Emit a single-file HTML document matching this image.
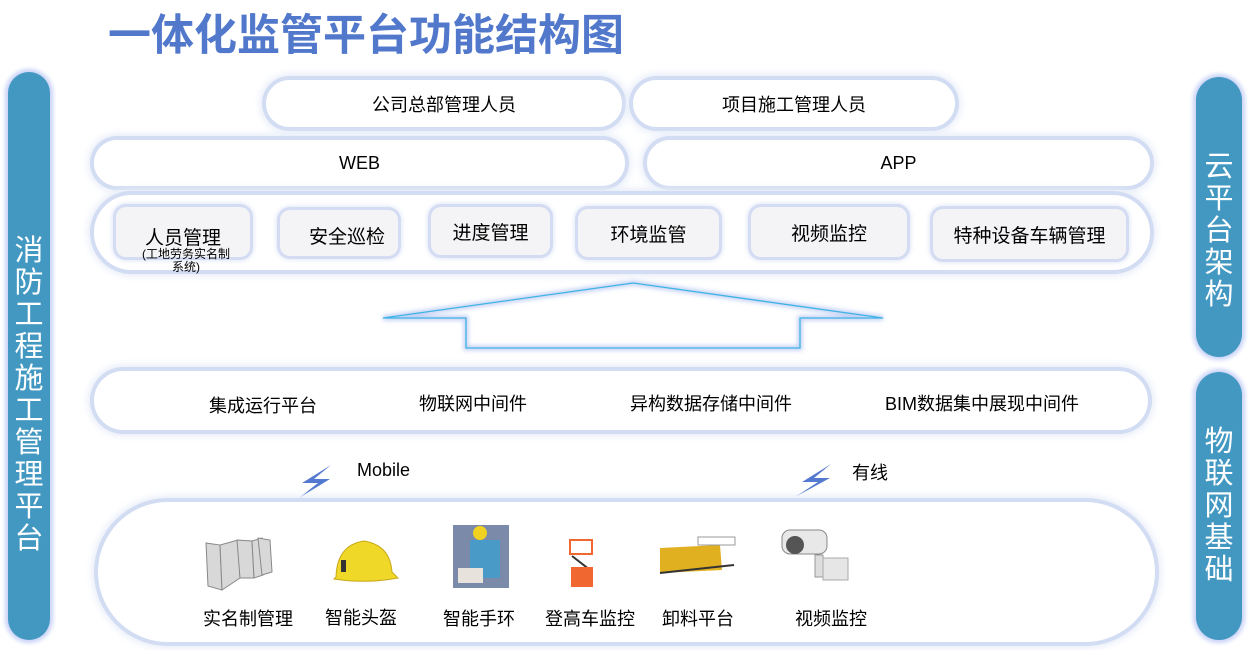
<!DOCTYPE html>
<html><head><meta charset="utf-8">
<style>
body{margin:0;width:1255px;height:650px;background:#fff;position:relative;overflow:hidden;font-family:"Liberation Sans","Noto Sans CJK SC",sans-serif;}
.a{position:absolute;box-sizing:border-box;}
.bar{background:#4398c2;border-radius:26px;box-shadow:0 0 4px 3px #c9d3f7;color:#fff;font-size:29px;line-height:32px;text-align:center;display:flex;align-items:center;justify-content:center;}
.pill{border:2px solid #fff;border-radius:30px;box-shadow:0 0 0 4px #d2dcf2,0 0 8px 6px #e6ecf8;background:#fff;display:flex;align-items:center;justify-content:center;font-size:18px;color:#000;}
.box{background:#f4f4f6;border-radius:10px;box-shadow:0 0 0 3px #d3dcf2,0 0 5px 4px #e2e8f7;font-size:19px;display:flex;align-items:center;justify-content:center;}
.t{position:absolute;font-size:18px;color:#000;white-space:nowrap;}
</style></head><body>
<div class="a" style="left:108px;top:1px;font-size:43px;font-weight:bold;color:#5278cc;">一体化监管平台功能结构图</div>

<div class="a bar" style="left:8px;top:72px;width:42px;height:568px;padding-top:78px;">消<br>防<br>工<br>程<br>施<br>工<br>管<br>理<br>平<br>台</div>
<div class="a bar" style="left:1196px;top:77px;width:46px;height:280px;padding-top:28px;">云<br>平<br>台<br>架<br>构</div>
<div class="a bar" style="left:1196px;top:372px;width:46px;height:268px;">物<br>联<br>网<br>基<br>础</div>

<div class="a pill" style="left:266px;top:80px;width:356px;height:47px;">公司总部管理人员</div>
<div class="a pill" style="left:633px;top:80px;width:322px;height:47px;">项目施工管理人员</div>
<div class="a pill" style="left:94px;top:140px;width:531px;height:46px;">WEB</div>
<div class="a pill" style="left:647px;top:140px;width:503px;height:46px;">APP</div>
<div class="a pill" style="left:94px;top:195px;width:1056px;height:75px;border-radius:38px;"></div>

<div class="a box" style="left:116px;top:207px;width:134px;height:50px;align-items:flex-start;padding-top:16px;">人员管理</div>
<div class="t" style="left:138px;top:248px;font-size:12px;line-height:13px;text-align:center;width:96px;white-space:normal;">(工地劳务实名制系统)</div>
<div class="a box" style="left:280px;top:210px;width:118px;height:46px;padding-left:16px;padding-top:4px;">安全巡检</div>
<div class="a box" style="left:431px;top:207px;width:119px;height:48px;">进度管理</div>
<div class="a box" style="left:578px;top:209px;width:141px;height:48px;">环境监管</div>
<div class="a box" style="left:751px;top:207px;width:156px;height:50px;">视频监控</div>
<div class="a box" style="left:933px;top:209px;width:193px;height:50px;">特种设备车辆管理</div>

<svg class="a" style="left:0;top:0" width="1255" height="650">
<defs><filter id="g"><feGaussianBlur stdDeviation="2"/></filter></defs>
<polygon points="383,318 633,283 883,318 800,318 800,348 466,348 466,318" fill="none" stroke="#c3d0f5" stroke-width="5" filter="url(#g)"/>
<polygon points="383,318 633,283 883,318 800,318 800,348 466,348 466,318" fill="none" stroke="#3fb3e6" stroke-width="1.3"/>
<polygon points="331,465 302,483 318,483 299,498 330,479 314,479" fill="#5479d0"/>
<polygon points="831,464 802,482 818,482 795,497 830,478 814,478" fill="#5479d0"/>
</svg>

<div class="a pill" style="left:94px;top:371px;width:1054px;height:59px;"></div>
<div class="t" style="left:209px;top:392px;">集成运行平台</div>
<div class="t" style="left:419px;top:390px;">物联网中间件</div>
<div class="t" style="left:630px;top:390px;">异构数据存储中间件</div>
<div class="t" style="left:885px;top:390px;">BIM数据集中展现中间件</div>

<div class="t" style="left:357px;top:460px;">Mobile</div>
<div class="t" style="left:852px;top:459px;">有线</div>

<div class="a pill" style="left:98px;top:502px;width:1057px;height:140px;border-radius:70px;"></div>

<svg class="a" style="left:0;top:0" width="1255" height="650">
<g fill="#d8d8d8" stroke="#888" stroke-width="1">
<polygon points="206,543 220,545 222,590 208,586"/>
<polygon points="220,545 238,540 240,578 222,590"/>
<polygon points="237,540 252,541 254,578 240,578"/>
<polygon points="252,541 262,538 263,575 254,578"/>
<polygon points="258,538 270,540 272,572 262,575"/>
</g>
<path d="M336,577 Q337,545 364,541 Q390,545 392,572 L398,578 Q366,584 334,579 Z" fill="#f0d828" stroke="#c8a818"/>
<rect x="341" y="560" width="5" height="12" fill="#333"/>
<rect x="453" y="525" width="56" height="63" fill="#7a8aa8"/>
<rect x="470" y="540" width="30" height="38" fill="#4a9ac8"/>
<circle cx="480" cy="533" r="7" fill="#f0d020"/>
<rect x="458" y="568" width="25" height="15" fill="#e8e2dc"/>
<rect x="570" y="540" width="22" height="14" fill="none" stroke="#f06830" stroke-width="2"/>
<polyline points="572,556 590,570 572,582" fill="none" stroke="#333" stroke-width="2"/>
<rect x="571" y="567" width="22" height="20" fill="#f06830"/>
<polygon points="660,548 720,545 722,570 660,573" fill="#e0b020"/>
<rect x="698" y="537" width="37" height="8" fill="none" stroke="#999"/>
<line x1="660" y1="573" x2="734" y2="565" stroke="#333" stroke-width="2"/>
<rect x="782" y="530" width="45" height="24" rx="8" fill="#e8e8e8" stroke="#888"/>
<circle cx="795" cy="545" r="9" fill="#555"/>
<rect x="815" y="555" width="8" height="22" fill="#ddd" stroke="#999"/>
<rect x="823" y="558" width="25" height="22" fill="#e6e6e6" stroke="#aaa"/>
</svg>

<div class="t" style="left:203px;top:605px;">实名制管理</div>
<div class="t" style="left:325px;top:604px;">智能头盔</div>
<div class="t" style="left:443px;top:605px;">智能手环</div>
<div class="t" style="left:545px;top:605px;">登高车监控</div>
<div class="t" style="left:662px;top:605px;">卸料平台</div>
<div class="t" style="left:795px;top:605px;">视频监控</div>
</body></html>
